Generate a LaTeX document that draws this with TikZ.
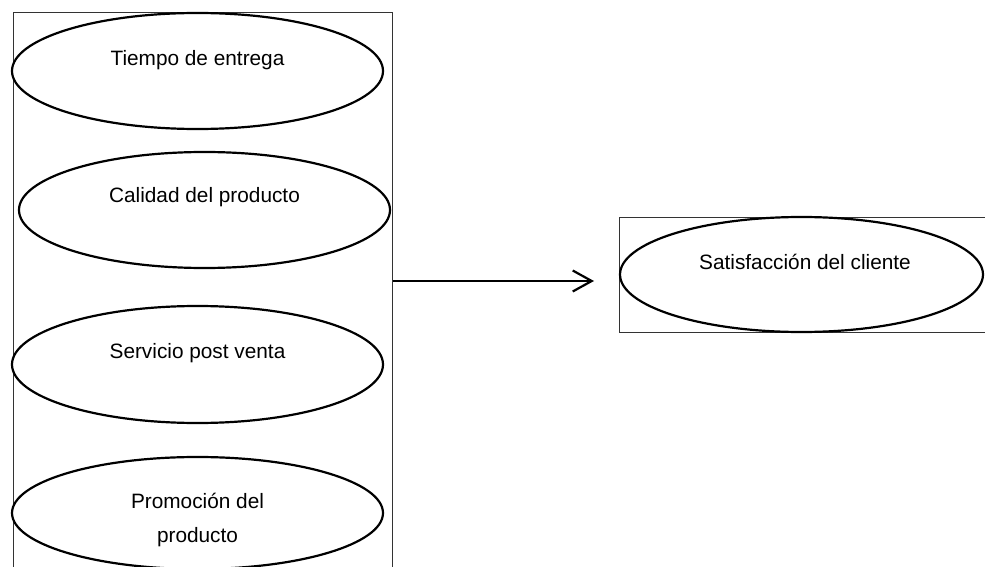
\documentclass[tikz,border=0pt]{standalone}
\usepackage{fontspec}
\setmainfont{Liberation Sans}
\usetikzlibrary{shapes.geometric,arrows.meta}
\begin{document}
\begin{tikzpicture}[x=1pt,y=-1pt,
  frame/.style={draw=black!80,line width=1.1pt},
  oval/.style={ellipse,draw=black,line width=2.2pt,inner sep=0pt,fill=white},
  lbl/.style={inner sep=0pt,align=center,font=\fontsize{20.8}{34}\selectfont},
  link/.style={line width=2.2pt,-{Straight Barb[length=19pt,width=21pt,line width=2.2pt]}}]
\useasboundingbox (0,0) rectangle (985,567);
\clip (0,0) rectangle (985,567);
% factor group frame
\node[frame,minimum width=379pt,minimum height=580pt,inner sep=0pt,anchor=north west] (grp) at (13,12) {};
% factors
\node[oval,minimum width=371pt,minimum height=116pt] (e1) at (197.5,71) {};
\node[lbl] (t1) at (197.5,60) {Tiempo de entrega};
\node[oval,minimum width=371pt,minimum height=116pt] (e2) at (204.5,210) {};
\node[lbl] (t2) at (204.5,197) {Calidad del producto};
\node[oval,minimum width=371pt,minimum height=117pt] (e3) at (197.5,364.5) {};
\node[lbl] (t3) at (197.5,353) {Servicio post venta};
\node[oval,minimum width=371pt,minimum height=112pt] (e4) at (197.5,513) {};
\node[lbl] (t4) at (197.5,520) {Promoción del\\producto};
% outcome
\node[frame,minimum width=366pt,minimum height=115pt,inner sep=0pt,anchor=north west] (out) at (619,217) {};
\node[oval,minimum width=363pt,minimum height=115pt] (e5) at (801.5,274.5) {};
\node[lbl] (t5) at (805,262) {Satisfacción del cliente};
% relation arrow
\coordinate (tip) at (594,281);
\draw[link] (grp.east |- tip) -- (tip);
\end{tikzpicture}
\end{document}
